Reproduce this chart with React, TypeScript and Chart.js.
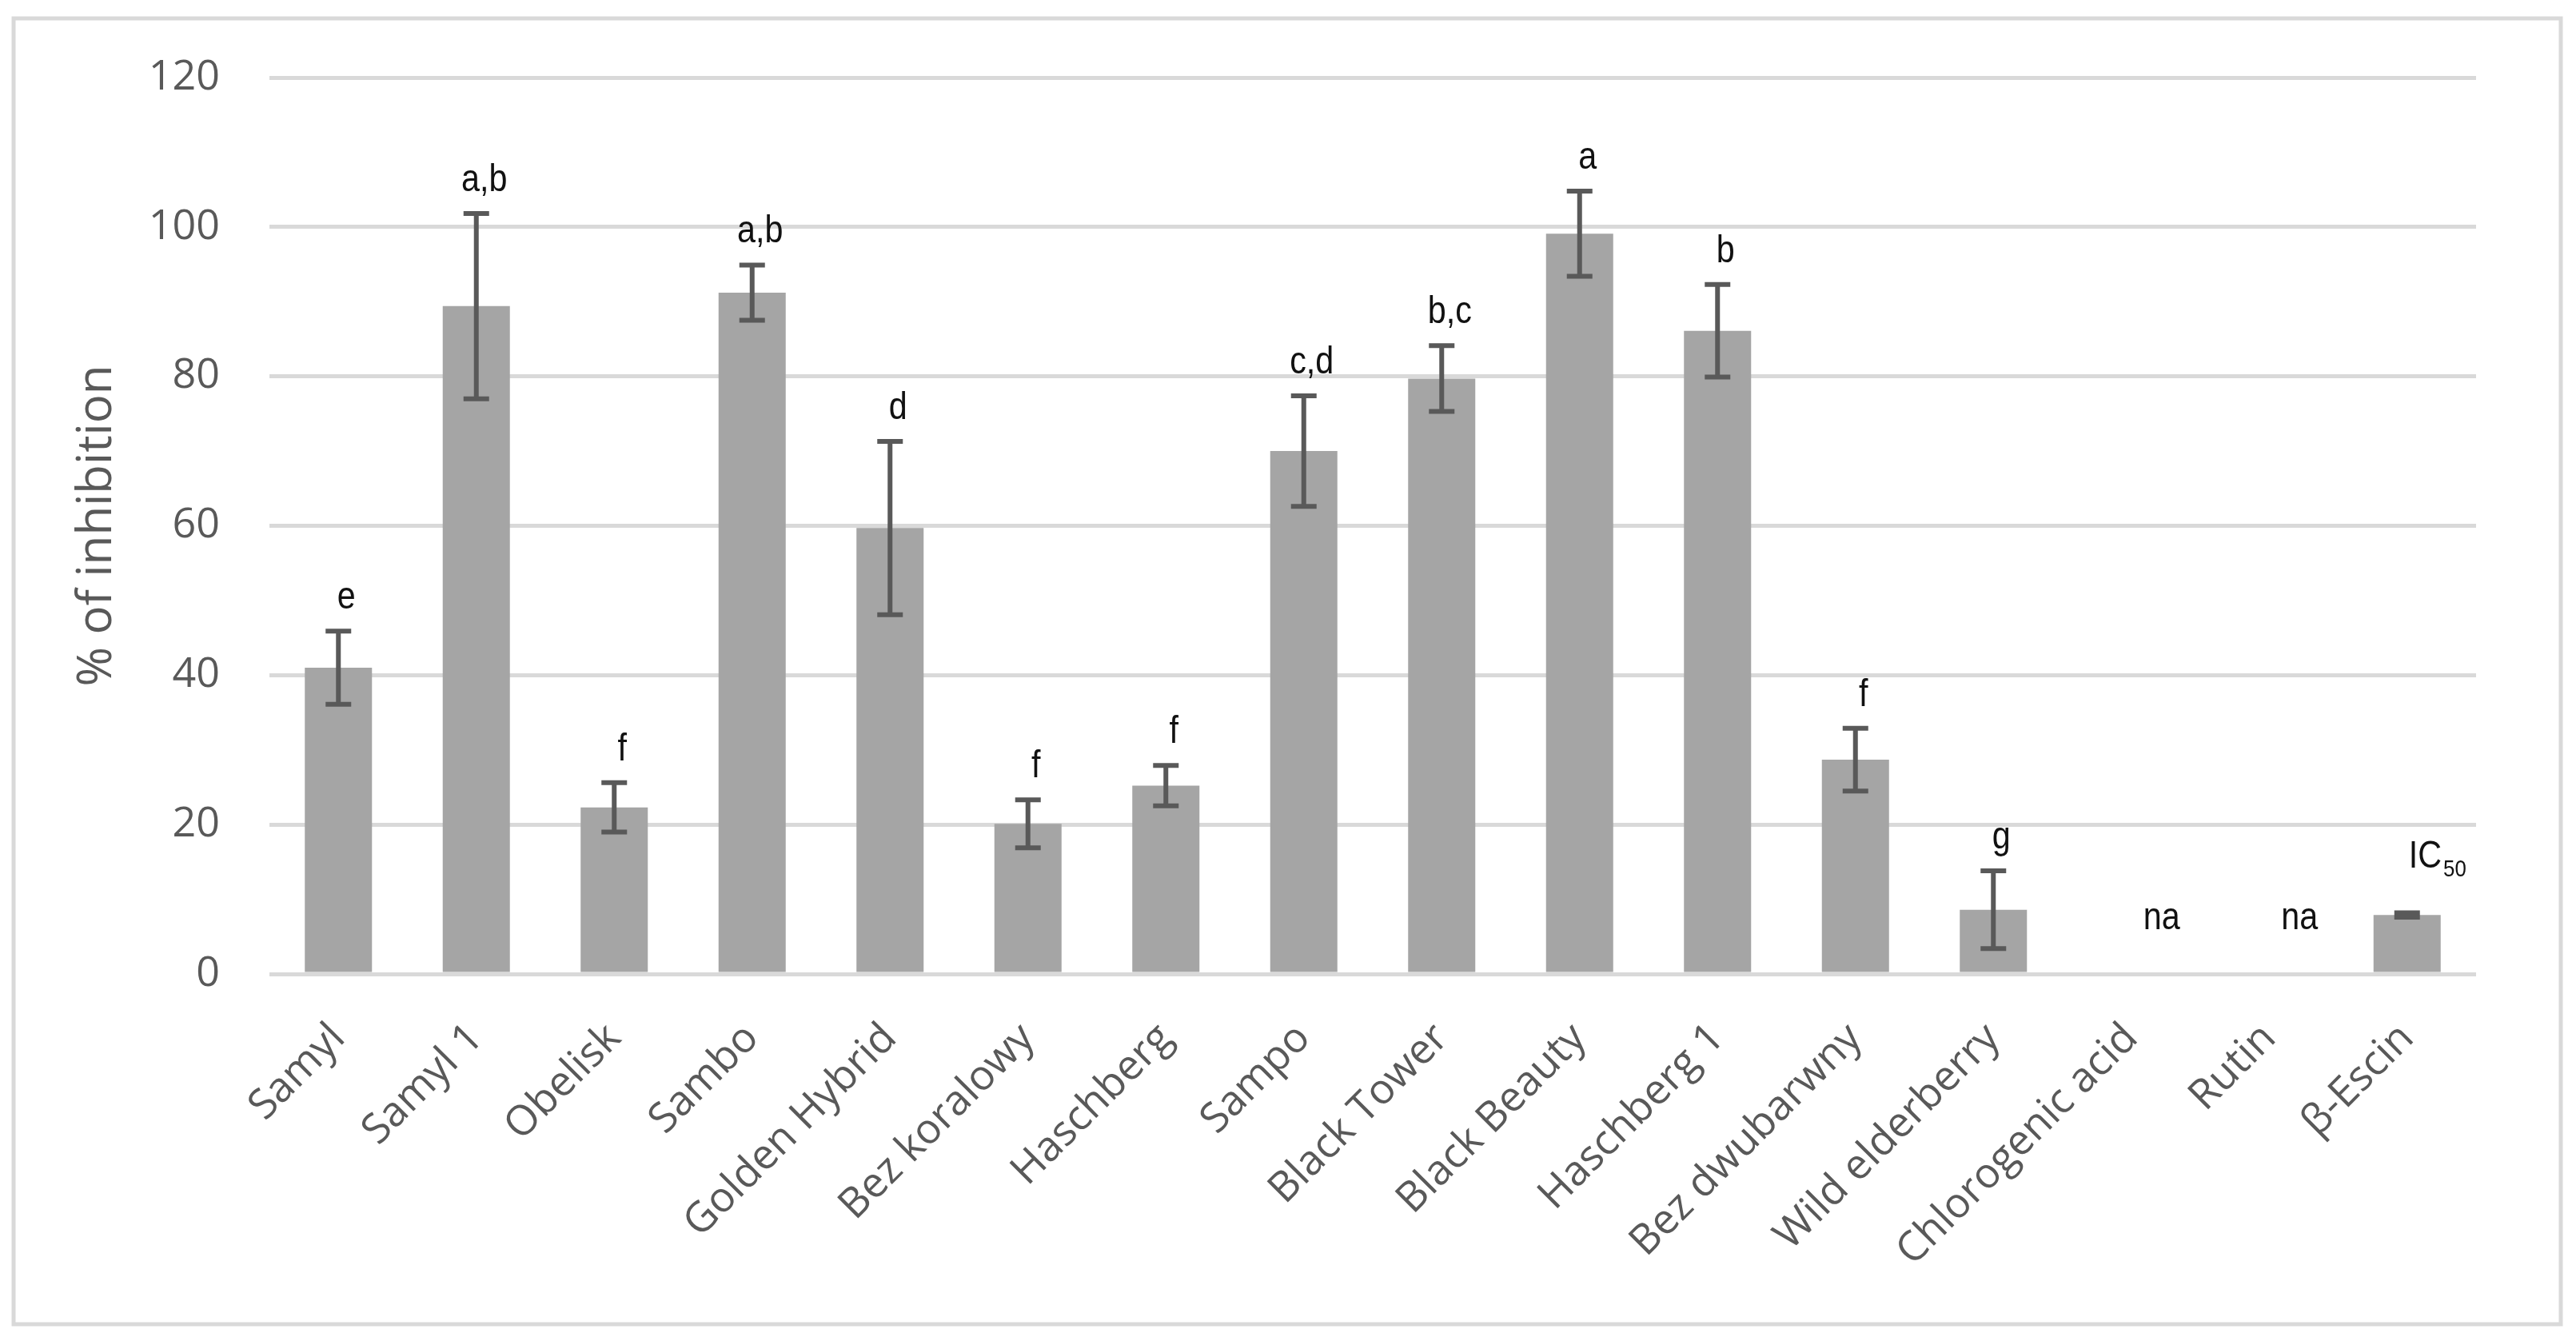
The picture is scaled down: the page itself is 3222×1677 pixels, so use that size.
import React, { useEffect, useRef } from "react";
import { Chart, registerables } from "chart.js";

Chart.register(...registerables);

// ---- data ----
const categories = [
  "Samyl",
  "Samyl 1",
  "Obelisk",
  "Sambo",
  "Golden Hybrid",
  "Bez koralowy",
  "Haschberg",
  "Sampo",
  "Black Tower",
  "Black Beauty",
  "Haschberg 1",
  "Bez dwubarwny",
  "Wild elderberry",
  "Chlorogenic acid",
  "Rutin",
  "β-Escin",
];
const inhibition = [41.0, 89.4, 22.3, 91.2, 59.7, 20.1, 25.2, 70.0, 79.7, 99.1, 86.1, 28.7, 8.6, 0, 0, 7.9];
const errors = [4.9, 12.4, 3.3, 3.7, 11.6, 3.2, 2.7, 7.4, 4.4, 5.7, 6.2, 4.2, 5.2, 0, 0, 0.3];
const groupLetters = ["e", "a,b", "f", "a,b", "d", "f", "f", "c,d", "b,c", "a", "b", "f", "g", "na", "na", "IC50"];
const yMin = 0;
const yMax = 120;
const yStep = 20;
const yTitle = "% of inhibition";

const FONT = '"Open Sans", "Noto Sans", sans-serif';
const LETTER_FONT = '"Liberation Sans", Arial, sans-serif';
const NARROW = 0.86;

const backgroundPlugin = {
  id: "bgBorder",
  beforeDraw(chart: any) {
    const { ctx, width, height } = chart;
    ctx.save();
    ctx.fillStyle = "#ffffff";
    ctx.fillRect(0, 0, width, height);
    ctx.strokeStyle = "#d9d9d9";
    ctx.lineWidth = 5;
    ctx.strokeRect(17, 23, 3186, 1633);
    ctx.restore();
  },
};

function narrowText(ctx: CanvasRenderingContext2D, text: string, x: number, y: number) {
  ctx.save();
  ctx.translate(x, y);
  ctx.scale(NARROW, 1);
  ctx.fillText(text, 0, 0);
  ctx.restore();
}

const errorBarPlugin = {
  id: "errorBars",
  afterDatasetsDraw(chart: any) {
    const ctx = chart.ctx;
    const meta = chart.getDatasetMeta(0);
    const yScale = chart.scales.y;
    ctx.save();
    ctx.strokeStyle = "#595959";
    ctx.lineWidth = 6;
    ctx.lineCap = "butt";
    meta.data.forEach((bar: any, i: number) => {
      const e = errors[i];
      if (!e) return;
      const v = inhibition[i];
      const x = bar.x;
      const yTop = yScale.getPixelForValue(v + e);
      const yBot = yScale.getPixelForValue(v - e);
      ctx.beginPath();
      ctx.moveTo(x, yTop);
      ctx.lineTo(x, yBot);
      ctx.moveTo(x - 16, yTop);
      ctx.lineTo(x + 16, yTop);
      ctx.moveTo(x - 16, yBot);
      ctx.lineTo(x + 16, yBot);
      ctx.stroke();
    });

    // group letters
    ctx.fillStyle = "#111111";
    ctx.textBaseline = "alphabetic";
    ctx.textAlign = "left";
    meta.data.forEach((bar: any, i: number) => {
      const label = groupLetters[i];
      if (!label) return;
      const e = errors[i];
      const v = inhibition[i];
      const noBar = e <= 0.5;
      const gap = noBar ? 56 : 28;
      const baseY = yScale.getPixelForValue(v + e) - gap;
      const cx = bar.x + (noBar ? 38 : 10);
      const m = /^([A-Za-z]+)(\d+)$/.exec(label);
      if (m) {
        ctx.font = `48px ${LETTER_FONT}`;
        const w1 = ctx.measureText(m[1]).width * NARROW;
        ctx.font = `30px ${LETTER_FONT}`;
        const w2 = ctx.measureText(m[2]).width * NARROW;
        const start = cx - (w1 + w2 + 2) / 2;
        ctx.font = `48px ${LETTER_FONT}`;
        narrowText(ctx, m[1], start, baseY);
        ctx.font = `30px ${LETTER_FONT}`;
        narrowText(ctx, m[2], start + w1 + 2, baseY + 11);
      } else {
        ctx.font = `48px ${LETTER_FONT}`;
        const w = ctx.measureText(label).width * NARROW;
        narrowText(ctx, label, cx - w / 2, baseY);
      }
    });
    ctx.restore();
  },
};

export default function App() {
  const canvasRef = useRef<HTMLCanvasElement | null>(null);

  useEffect(() => {
    document.body.style.margin = "0";
    let chart: Chart | null = null;
    let cancelled = false;
    const make = () => {
      if (cancelled || !canvasRef.current) return;
      chart = new Chart(canvasRef.current, {
        type: "bar",
        data: {
          labels: categories,
          datasets: [
            {
              data: inhibition,
              backgroundColor: "#a5a5a5",
              borderWidth: 0,
              categoryPercentage: 0.487,
              barPercentage: 1,
            },
          ],
        },
        options: {
          animation: false,
          responsive: false,
          maintainAspectRatio: false,
          devicePixelRatio: 1,
          layout: { padding: { left: 86, top: 97, right: 125, bottom: 0 } },
          plugins: {
            legend: { display: false },
            tooltip: { enabled: false },
          },
          scales: {
            x: {
              grid: { display: false, drawTicks: false },
              border: { display: false },
              ticks: {
                autoSkip: false,
                minRotation: 45,
                maxRotation: 45,
                padding: 50,
                color: "#595959",
                font: { family: FONT, size: 52 },
              },
              afterFit: (s: any) => {
                s.height = 459;
              },
            },
            y: {
              min: yMin,
              max: yMax,
              ticks: {
                stepSize: yStep,
                padding: 62,
                color: "#595959",
                font: { family: FONT, size: 52 },
              },
              grid: { color: "#d9d9d9", lineWidth: 5, drawTicks: false },
              border: { display: false },
              title: {
                display: true,
                text: yTitle,
                color: "#595959",
                font: { family: FONT, size: 60 },
                padding: 0,
              },
              afterFit: (s: any) => {
                s.width = 251;
              },
            },
          },
        } as any,
        plugins: [backgroundPlugin, errorBarPlugin],
      });
    };
    const fontsReady = (document as any).fonts
      ? Promise.all([
          (document as any).fonts.load(`52px "Open Sans"`),
          (document as any).fonts.load(`48px "Liberation Sans"`),
        ]).catch(() => null)
      : Promise.resolve(null);
    fontsReady.then(make);
    return () => {
      cancelled = true;
      if (chart) chart.destroy();
    };
  }, []);

  return (
    <div style={{ position: "absolute", left: 0, top: 0, width: 3222, height: 1677, background: "#fff" }}>
      <canvas ref={canvasRef} width={3222} height={1677} style={{ display: "block", width: 3222, height: 1677 }} />
    </div>
  );
}
